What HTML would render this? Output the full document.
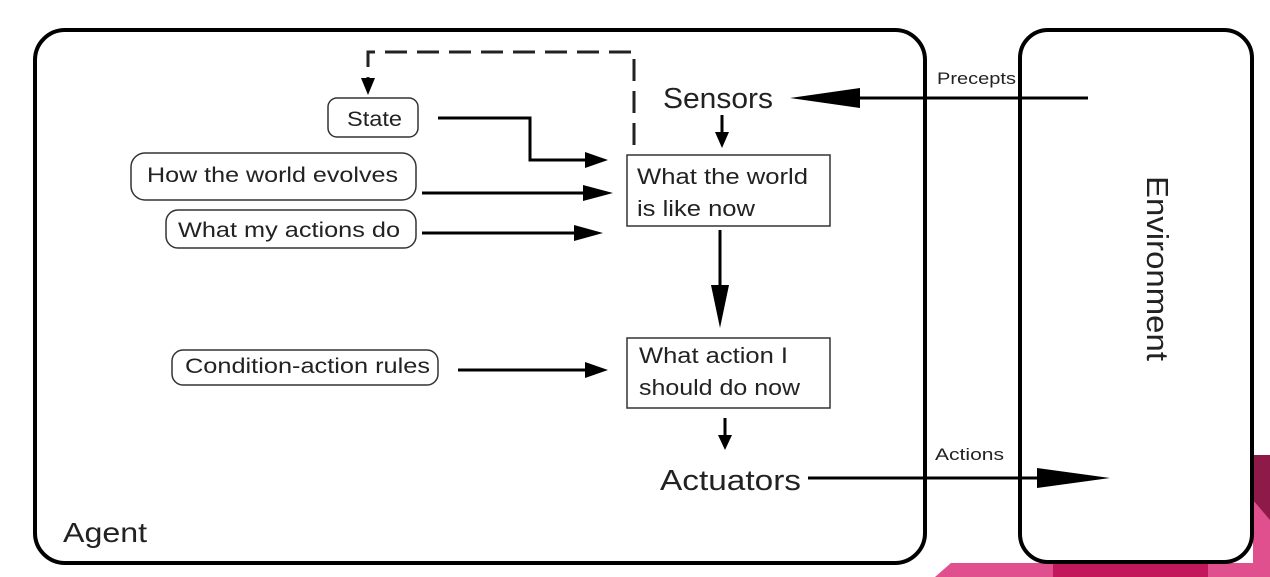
<!DOCTYPE html>
<html><head><meta charset="utf-8"><style>
html,body{margin:0;padding:0;background:#fff;}
svg{display:block;}
text{font-family:"Liberation Sans",sans-serif;fill:#222;}
</style></head><body>
<svg width="1270" height="577" viewBox="0 0 1270 577" xmlns="http://www.w3.org/2000/svg">
<!-- pink decoration -->
<polygon points="935,577 960,555 1270,555 1270,577" fill="#e0508e"/>
<rect x="1053" y="555" width="155" height="22" fill="#c2185b"/>
<rect x="1253" y="455" width="17" height="122" fill="#e0508e"/>
<polygon points="1253,455 1270,455 1270,520 1253,500" fill="#8e1a4a"/>
<rect x="940" y="0" width="313" height="563" fill="#fff"/>
<!-- Agent box -->
<rect x="35" y="30" width="890" height="533" rx="30" fill="none" stroke="#000" stroke-width="4"/>
<!-- Environment box -->
<rect x="1020" y="30" width="232" height="532" rx="28" fill="#fff" stroke="#000" stroke-width="4"/>
<text x="63" y="542" font-size="28" textLength="84" lengthAdjust="spacingAndGlyphs">Agent</text>
<text x="0" y="0" font-size="31" transform="translate(1147,176) rotate(90)" textLength="185" lengthAdjust="spacingAndGlyphs">Environment</text>
<text x="663" y="108" font-size="29" textLength="110" lengthAdjust="spacingAndGlyphs">Sensors</text>
<text x="660" y="490" font-size="29" textLength="141" lengthAdjust="spacingAndGlyphs">Actuators</text>
<text x="937" y="84" font-size="17" textLength="79" lengthAdjust="spacingAndGlyphs">Precepts</text>
<text x="935" y="460" font-size="17" textLength="69" lengthAdjust="spacingAndGlyphs">Actions</text>
<!-- rounded boxes -->
<rect x="328" y="98" width="90" height="39" rx="9" fill="none" stroke="#333" stroke-width="1.5"/>
<text x="347" y="126" font-size="21" textLength="55" lengthAdjust="spacingAndGlyphs">State</text>
<rect x="131" y="153" width="285" height="47" rx="14" fill="none" stroke="#333" stroke-width="1.5"/>
<text x="147" y="182" font-size="21" textLength="251" lengthAdjust="spacingAndGlyphs">How the world evolves</text>
<rect x="166" y="210" width="250" height="38" rx="12" fill="none" stroke="#333" stroke-width="1.5"/>
<text x="178" y="237" font-size="21" textLength="222" lengthAdjust="spacingAndGlyphs">What my actions do</text>
<rect x="172" y="350" width="266" height="35" rx="11" fill="none" stroke="#333" stroke-width="1.5"/>
<text x="185" y="373" font-size="21" textLength="245" lengthAdjust="spacingAndGlyphs">Condition-action rules</text>
<!-- square boxes -->
<rect x="627" y="155" width="203" height="71" fill="none" stroke="#333" stroke-width="1.5"/>
<text x="637" y="184" font-size="22" textLength="171" lengthAdjust="spacingAndGlyphs">What the world</text>
<text x="637" y="216" font-size="22" textLength="118" lengthAdjust="spacingAndGlyphs">is like now</text>
<rect x="627" y="338" width="203" height="70" fill="none" stroke="#333" stroke-width="1.5"/>
<text x="639" y="363" font-size="22" textLength="149" lengthAdjust="spacingAndGlyphs">What action I</text>
<text x="639" y="395" font-size="22" textLength="161" lengthAdjust="spacingAndGlyphs">should do now</text>
<!-- arrows -->
<polyline points="634,145 634,52 368,52 368,80" fill="none" stroke="#222" stroke-width="3" stroke-dasharray="22,10"/>
<polygon points="361,78 375,78 368,95" fill="#000"/>
<polyline points="438,118 530,118 530,160 590,160" fill="none" stroke="#000" stroke-width="3"/>
<polygon points="585,152 608,160 585,168" fill="#000"/>
<line x1="422" y1="193" x2="592" y2="193" stroke="#000" stroke-width="3"/>
<polygon points="583,185 613,193 583,201" fill="#000"/>
<line x1="422" y1="233" x2="580" y2="233" stroke="#000" stroke-width="3"/>
<polygon points="574,225 603,233 574,241" fill="#000"/>
<line x1="458" y1="370" x2="590" y2="370" stroke="#000" stroke-width="3"/>
<polygon points="585,362 608,370 585,378" fill="#000"/>
<line x1="722" y1="115" x2="722" y2="135" stroke="#000" stroke-width="3"/>
<polygon points="715,132 729,132 722,148" fill="#000"/>
<line x1="720" y1="230" x2="720" y2="290" stroke="#000" stroke-width="3"/>
<polygon points="711,285 729,285 720,328" fill="#000"/>
<line x1="725" y1="418" x2="725" y2="438" stroke="#000" stroke-width="3"/>
<polygon points="718,435 732,435 725,450" fill="#000"/>
<line x1="1088" y1="98" x2="850" y2="98" stroke="#000" stroke-width="3"/>
<polygon points="860,88 860,108 790,98" fill="#000"/>
<line x1="808" y1="478" x2="1045" y2="478" stroke="#000" stroke-width="3"/>
<polygon points="1037,468 1037,488 1110,478" fill="#000"/>
</svg>
</body></html>
